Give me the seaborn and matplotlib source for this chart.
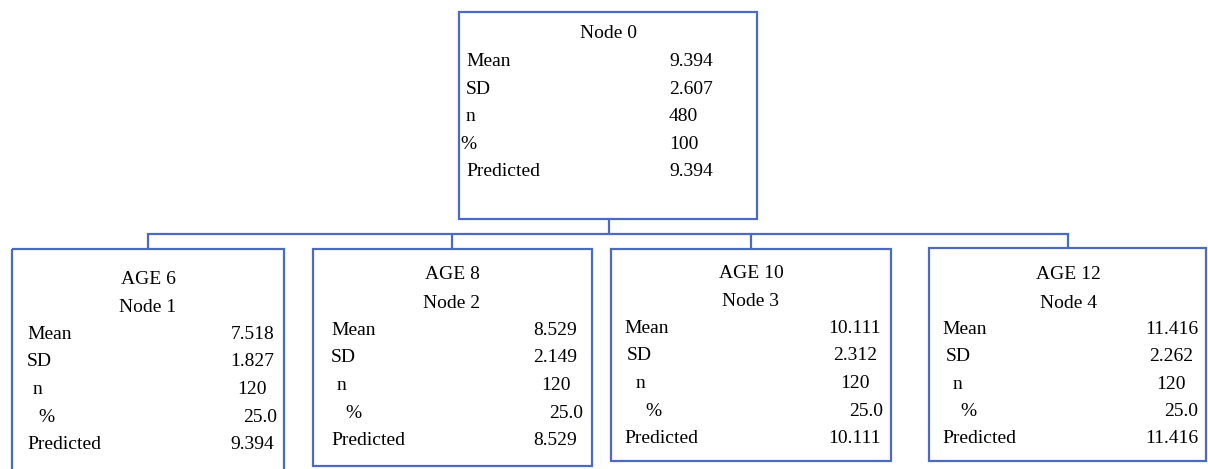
import matplotlib
matplotlib.use("Agg")
import matplotlib.pyplot as plt
import seaborn as sns
from matplotlib.patches import Rectangle

# node data
node_titles = ["Node 0", "AGE 6", "AGE 8", "AGE 10", "AGE 12"]
node_ids = ["", "Node 1", "Node 2", "Node 3", "Node 4"]
row_names = ["Mean", "SD", "n", "%", "Predicted"]
means = ["9.394", "7.518", "8.529", "10.111", "11.416"]
sds = ["2.607", "1.827", "2.149", "2.312", "2.262"]
counts = ["480", "120", "120", "120", "120"]
percents = ["100", "25.0", "25.0", "25.0", "25.0"]
predicted = ["9.394", "9.394", "8.529", "10.111", "11.416"]

# layout (pixels, y downwards): box left, right, top, bottom
boxes = [(459, 757, 12, 219),
         (12, 284, 249, 471),
         (313, 592, 249, 466),
         (611, 891, 249, 461),
         (929, 1206, 248, 461)]
# baseline of first title line and of first stat row
title_y = [38, 284, 279, 278, 279]
row_y0 = [66, 339, 335, 333, 334]
row_step = [27.6, 27.5, 27.5, 27.5, 27.3]
# label x per row, value x per row
label_x = [[466, 466, 466, 460, 466],
           [27, 27, 33, 38, 27],
           [331, 331, 337, 345, 331],
           [624, 627, 636, 645, 624],
           [942, 946, 953, 960, 942]]
value_x = [[669] * 5,
           [274, 274, 267, 277, 274],
           [577, 577, 571, 583, 577],
           [881, 877, 870, 883, 881],
           [1198, 1193, 1186, 1198, 1198]]
bus_y = 234
line_color = "#4a6bbf"

sns.set_theme(style="white")
plt.rcParams['font.family'] = ['Liberation Serif', 'DejaVu Serif']

fig = plt.figure(figsize=(12.08, 4.69), dpi=100)
ax = fig.add_axes([0, 0, 1, 1])
ax.set_xlim(0, 1208)
ax.set_ylim(469, 0)
ax.axis('off')

# boxes
for (x0, x1, y0, y1) in boxes:
    ax.add_patch(Rectangle((x0, y0), x1 - x0, y1 - y0, fill=False,
                           edgecolor=line_color, linewidth=1.6))

# connectors
root_cx = (boxes[0][0] + boxes[0][1]) / 2 + 1
stems = [148, 452, 751, 1068]
ax.plot([root_cx, root_cx], [boxes[0][3], bus_y], color=line_color, lw=1.6)
ax.plot([stems[0], stems[-1]], [bus_y, bus_y], color=line_color, lw=1.6,
        solid_capstyle='projecting')
for sx, b in zip(stems, boxes[1:]):
    ax.plot([sx, sx], [bus_y, b[2]], color=line_color, lw=1.6)

# text
fs = 14
for i in range(5):
    cx = stems[i - 1] if i > 0 else root_cx
    ax.text(cx, title_y[i], node_titles[i], ha='center', va='baseline',
            fontsize=fs, color='black')
    if node_ids[i]:
        ax.text(cx, title_y[i] + 28.5, node_ids[i], ha='center',
                va='baseline', fontsize=fs, color='black')
    vals = [means[i], sds[i], counts[i], percents[i], predicted[i]]
    for r, (name, v) in enumerate(zip(row_names, vals)):
        y = row_y0[i] + r * row_step[i]
        ax.text(label_x[i][r], y, name, ha='left', va='baseline',
                fontsize=fs, color='black')
        ax.text(value_x[i][r], y, v, ha='left' if i == 0 else 'right',
                va='baseline', fontsize=fs, color='black')

fig.savefig("out.png", dpi=100, facecolor='white')
